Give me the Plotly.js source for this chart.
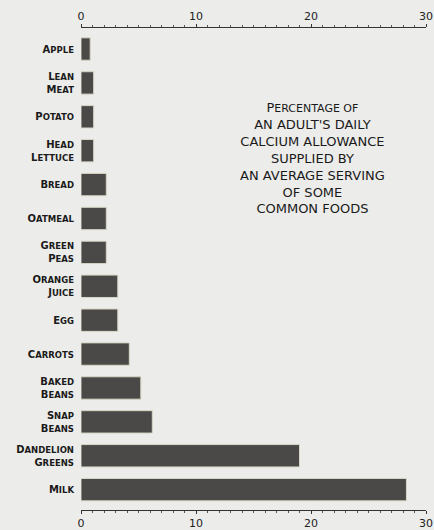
<!DOCTYPE html>
<html>
<head>
<meta charset="utf-8">
<script src="https://cdn.plot.ly/plotly-3.0.1.min.js"></script>
<style>
html,body{margin:0;padding:0;background:#ececea;}
#chart{width:434px;height:530px;}
</style>
</head>
<body>
<div id="chart"></div>
<script>
// Data
const foods = ["Apple", "Lean|Meat", "Potato", "Head|Lettuce", "Bread", "Oatmeal", "Green|Peas",
               "Orange|Juice", "Egg", "Carrots", "Baked|Beans", "Snap|Beans", "Dandelion|Greens", "Milk"];
const calciumPct = [0.8, 1.1, 1.1, 1.1, 2.2, 2.2, 2.2, 3.2, 3.2, 4.2, 5.2, 6.2, 19.0, 28.3];
const xTicks = [0, 10, 20, 30];
const titleLines = ["Percentage of", "an adult's daily", "calcium allowance", "supplied by",
                    "an average serving", "of some", "common foods"];

function smallCaps(text, small) {
  return text.charAt(0).toUpperCase() + "<span style='font-size:" + small + "px'>" + text.slice(1).toUpperCase() + "</span>";
}
const tickText = foods.map(f => f.split("|").map(p => "<b>" + smallCaps(p, 8.5) + "</b>").join("<br>"));
const titleText = titleLines.map((l, i) => i === 0 ? smallCaps(l, 11) : l.toUpperCase()).join("<br>");

const barTrace = {
  type: "bar",
  orientation: "h",
  x: calciumPct,
  y: foods,
  width: 0.66,
  marker: {color: "#4a4947", line: {color: "#d8d6c4", width: 1}},
  hoverinfo: "x+y",
  showlegend: false
};
const topDummy = {
  type: "scatter",
  x: [0, 30],
  y: [foods[0], foods[0]],
  xaxis: "x2",
  mode: "markers",
  marker: {opacity: 0},
  hoverinfo: "skip",
  showlegend: false
};

const axisCommon = {
  range: [0, 30],
  tickvals: xTicks,
  ticktext: xTicks.map(String),
  showgrid: false,
  zeroline: false,
  showline: true,
  linecolor: "#333",
  linewidth: 1,
  ticks: "outside",
  ticklen: 3,
  tickcolor: "#333",
  minor: {dtick: 1, ticks: "outside", ticklen: 2, tickcolor: "#555"},
  tickfont: {family: "DejaVu Sans", size: 11, color: "#222"},
  fixedrange: true
};

const layout = {
  width: 434,
  height: 530,
  margin: {l: 81, r: 8, t: 28, b: 20},
  paper_bgcolor: "#ececea",
  plot_bgcolor: "#ececea",
  xaxis: Object.assign({}, axisCommon, {side: "bottom", anchor: "y", ticklabelstandoff: 0}),
  xaxis2: Object.assign({}, axisCommon, {side: "top", overlaying: "x", anchor: "y"}),
  yaxis: {
    type: "category",
    range: [13.6, -0.62],
    tickvals: foods,
    ticktext: tickText,
    showline: false,
    showgrid: false,
    zeroline: false,
    ticks: "",
    ticklabelstandoff: 6,
    tickfont: {family: "DejaVu Sans", size: 10, color: "#1a1a1a"},
    fixedrange: true
  },
  annotations: [{
    xref: "paper", yref: "paper",
    x: 0.67, y: 0.855,
    xanchor: "center", yanchor: "top",
    showarrow: false,
    align: "center",
    text: titleText,
    font: {family: "DejaVu Sans", size: 13, color: "#1a1a1a"}
  }]
};

Plotly.newPlot("chart", [barTrace, topDummy], layout, {displayModeBar: false, staticPlot: true});
</script>
</body>
</html>
